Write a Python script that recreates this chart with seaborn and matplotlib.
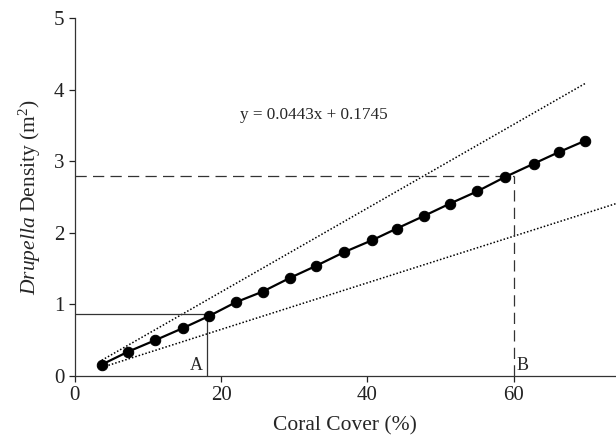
import numpy as np
import pandas as pd
import seaborn as sns
import matplotlib
matplotlib.use("Agg")
import matplotlib.pyplot as plt

# data
coral_cover = [3.7, 7.3, 11.0, 14.8, 18.4, 22.0, 25.7, 29.4, 33.0, 36.8,
               40.7, 44.0, 47.8, 51.3, 55.0, 58.8, 62.8, 66.2, 69.8]
density = [0.16, 0.34, 0.50, 0.67, 0.84, 1.03, 1.18, 1.37, 1.54, 1.73,
           1.90, 2.06, 2.24, 2.41, 2.58, 2.78, 2.97, 3.13, 3.29]

# confidence bounds (dotted), start / end points
upper_x = [3.7, 69.8]
upper_y = [0.22, 4.09]
lower_x = [3.7, 74.0]
lower_y = [0.12, 2.41]

# reference points A and B
a_x, a_y = 18.1, 0.86
b_x, b_y = 60.0, 2.80
equation = "y = 0.0443x + 0.1745"

df = pd.DataFrame({"cover": coral_cover, "density": density})

sns.set_style("ticks")
plt.rcParams['font.family'] = ['Liberation Serif', 'DejaVu Serif']
plt.rcParams['mathtext.fontset'] = 'custom'
plt.rcParams['mathtext.rm'] = 'Liberation Serif'
plt.rcParams['mathtext.it'] = 'Liberation Serif:italic'

fig = plt.figure(figsize=(6.16, 4.42), dpi=100)
ax = fig.add_axes([0.1213, 0.1493, 0.8787, 0.8093])

# dotted bounds
ax.plot(upper_x, upper_y, color='black', linestyle=(0, (1, 1.3)), linewidth=1.1)
ax.plot(lower_x, lower_y, color='black', linestyle=(0, (1, 1.3)), linewidth=1.1)

# A guide lines
ax.plot([0, a_x], [a_y, a_y], color='#333333', linewidth=0.9)
ax.plot([a_x, a_x], [0, a_y], color='#333333', linewidth=0.9)
# B guide lines
ax.plot([0, b_x], [b_y, b_y], color='#333333', linewidth=0.9, linestyle=(0, (9, 5)))
ax.plot([b_x, b_x], [0, b_y], color='#333333', linewidth=0.9, linestyle=(0, (9, 5)))

sns.lineplot(data=df, x="cover", y="density", ax=ax, color='black',
             linewidth=1.6, marker='o', markersize=7.5, markeredgecolor='black')

ax.text(a_x - 0.6, 0.03, "A", ha='right', va='bottom', fontsize=13)
ax.text(b_x + 0.4, 0.03, "B", ha='left', va='bottom', fontsize=13)
ax.text(22.6, 3.65, equation, ha='left', va='center', fontsize=12.3)

ax.set_xlim(0, 74)
ax.set_ylim(0, 5)
ax.set_xticks([0, 20, 40, 60])
ax.set_yticks([0, 1, 2, 3, 4, 5])
ax.tick_params(direction='out', length=4, width=0.9, labelsize=15, colors='#222222')
for s in ['left', 'bottom']:
    ax.spines[s].set_color('#333333')
    ax.spines[s].set_linewidth(0.9)
sns.despine(ax=ax)

ax.set_xlabel("Coral Cover (%)", fontsize=15.5, labelpad=8)
ax.set_ylabel(r"$\it{Drupella}$ Density (m$^2$)", fontsize=15.5, labelpad=8)

fig.savefig("out.png", dpi=100)
